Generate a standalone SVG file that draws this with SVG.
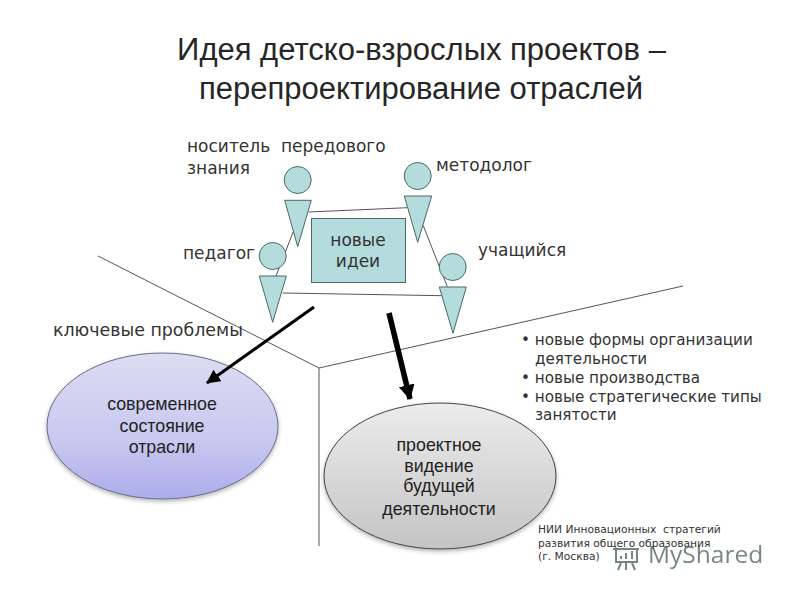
<svg xmlns="http://www.w3.org/2000/svg" width="800" height="600" viewBox="0 0 800 600">
<style>
text{font-family:"DejaVu Sans",sans-serif;fill:#333}
.title{font-family:"Liberation Sans",Arial,sans-serif;font-size:31px;fill:#262626;text-anchor:middle}
.lab{font-size:17px}
.ell{font-family:"Liberation Sans",Arial,sans-serif;font-size:17.8px;text-anchor:middle;fill:#222}
.fig{fill:#b5dcdc;stroke:#4a6868;stroke-width:1}
.thin{stroke:#555;stroke-width:1;fill:none}
.arrow{stroke:#000;fill:none}
.list{font-size:15.2px}
.small{font-size:10.7px}
</style>
<defs>
<linearGradient id="g1" x1="0" y1="0" x2="0" y2="1"><stop offset="0" stop-color="#dcdcf2"/><stop offset="0.6" stop-color="#c8c8f0"/><stop offset="1" stop-color="#acacea"/></linearGradient>
<linearGradient id="g2" x1="0" y1="0" x2="0" y2="1"><stop offset="0" stop-color="#ececec"/><stop offset="1" stop-color="#c4c4c4"/></linearGradient>
<filter id="sh" x="-10%" y="-10%" width="120%" height="125%"><feDropShadow dx="0" dy="2" stdDeviation="2" flood-color="#000" flood-opacity="0.3"/></filter>
<marker id="h1" markerUnits="userSpaceOnUse" markerWidth="16" markerHeight="16" refX="13" refY="7" orient="auto"><path d="M0 0L14 7L0 14z" fill="#000"/></marker>
<marker id="h2" markerUnits="userSpaceOnUse" markerWidth="18" markerHeight="18" refX="14" refY="8" orient="auto"><path d="M0 0L15 8L0 16z" fill="#000"/></marker>
</defs>
<rect width="800" height="600" fill="#fff"/>
<g id="title"><text class="title" x="421.5" y="60">Идея детско-взрослых проектов –</text><text class="title" x="421" y="99">перепроектирование отраслей</text></g>
<g id="connectors">
<path class="thin" d="M98 256L319 368M319 368L683 286M319 368V546"/>
<path class="thin" d="M308.7 212L407.3 207.7M423.3 225.7L447.3 286.7M282.7 293L441.7 295.7M293.3 231.7L276 276"/>
</g>
<g id="node-ideas"><rect class="fig" x="311.5" y="218.5" width="94" height="64"/><text class="lab" x="358" y="246" text-anchor="middle">новые</text><text class="lab" x="358" y="267" text-anchor="middle">идеи</text></g>
<g id="node-carrier"><circle class="fig" cx="297.7" cy="180" r="13.5"/><path class="fig" d="M284.7 200.3H311.3L297.7 246.7z"/><text class="lab" x="187" y="152" xml:space="preserve">носитель  передового</text><text class="lab" x="187" y="174">знания</text></g>
<g id="node-method"><circle class="fig" cx="417.7" cy="176" r="13.5"/><path class="fig" d="M404.3 196H431.7L417.7 242.3z"/><text class="lab" x="436" y="171">методолог</text></g>
<g id="node-teacher"><circle class="fig" cx="272.7" cy="256" r="13.5"/><path class="fig" d="M259.3 276H286.3L272.7 322.3z"/><text class="lab" x="183" y="259">педагог</text></g>
<g id="node-student"><circle class="fig" cx="452.7" cy="267" r="13.5"/><path class="fig" d="M439.3 287H466.3L453 333.3z"/><text class="lab" x="478" y="256">учащийся</text></g>
<g id="node-problems"><text class="lab" x="53" y="336" style="font-size:17.4px">ключевые проблемы</text></g>
<g id="node-current"><ellipse cx="162.5" cy="426" rx="115.5" ry="73" fill="url(#g1)" stroke="#6a6a8a" stroke-width="1" filter="url(#sh)"/><text class="ell" x="162" y="410">современное</text><text class="ell" x="162" y="432">состояние</text><text class="ell" x="162" y="453">отрасли</text></g>
<g id="node-vision"><ellipse cx="440" cy="476" rx="116" ry="73" fill="url(#g2)" stroke="#444" stroke-width="1" filter="url(#sh)"/><text class="ell" x="439" y="451">проектное</text><text class="ell" x="439" y="472">видение</text><text class="ell" x="439" y="492">будущей</text><text class="ell" x="439" y="515">деятельности</text></g>
<g id="arrows">
<path class="arrow" stroke-width="3" marker-end="url(#h1)" d="M314 307L207 383"/>
<path class="arrow" stroke-width="5.5" marker-end="url(#h2)" d="M389 313L410 399"/>
</g>
<g id="list">
<text class="list" x="521" y="345">• новые формы организации</text>
<text class="list" x="535" y="364">деятельности</text>
<text class="list" x="521" y="383">• новые производства</text>
<text class="list" x="521" y="402">• новые стратегические типы</text>
<text class="list" x="535" y="420">занятости</text>
</g>
<g id="note">
<text class="small" x="538" y="533" xml:space="preserve">НИИ Инновационных  стратегий</text>
<text class="small" x="538" y="547">развития общего образования</text>
<text class="small" x="538" y="560">(г. Москва)</text>
</g>
<g id="watermark" opacity="0.7">
<path d="M613 549H639M616 549V562H637V549" fill="none" stroke="#3f5450" stroke-width="2"/>
<path d="M621 559V556M626 559V553M632 559V551M621 563L618 570M626 563V570M632 563L635 570" fill="none" stroke="#3f5450" stroke-width="2"/>
<text x="648" y="563" style="font-family:'Open Sans',sans-serif;font-size:24.5px;fill:#3f5450">MyShared</text>
</g>
</svg>
